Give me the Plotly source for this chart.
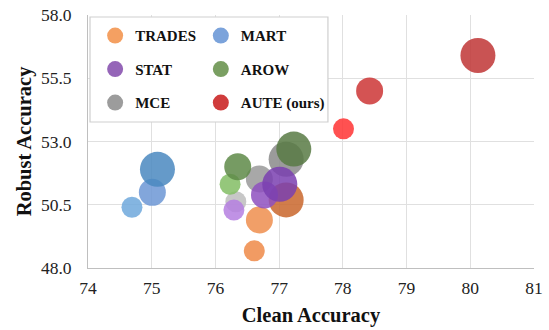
import plotly.graph_objects as go

methods = ["TRADES", "MART", "STAT", "AROW", "MCE", "AUTE (ours)"]
legend_colors = ["#F4A062", "#7BA3DB", "#9565B8", "#7A9F62", "#9C9C9C", "#D03C3C"]

clean = {
    "TRADES": [76.61, 76.69, 77.11],
    "MART": [74.69, 75.01, 75.09],
    "STAT": [76.29, 76.77, 77.01],
    "AROW": [76.23, 76.35, 77.23],
    "MCE": [76.32, 76.69, 77.11],
    "AUTE (ours)": [78.01, 78.42, 80.12],
}
robust = {
    "TRADES": [48.68, 49.90, 50.69],
    "MART": [50.40, 50.99, 51.90],
    "STAT": [50.29, 50.89, 51.31],
    "AROW": [51.31, 52.00, 52.70],
    "MCE": [50.62, 51.52, 52.30],
    "AUTE (ours)": [53.50, 55.00, 56.40],
}
point_colors = {
    "TRADES": ["#EE8A48", "#EF8E4E", "#C9662C"],
    "MART": ["#6FA8DC", "#6C96D5", "#4A88C0"],
    "STAT": ["#B57FE0", "#8E50BF", "#7A3FB0"],
    "AROW": ["#82BD64", "#5E8A48", "#587A44"],
    "MCE": ["#BDBDBD", "#999999", "#8A8A8A"],
    "AUTE (ours)": ["#FF3333", "#CC3535", "#BF3535"],
}
sizes = [21, 27, 35]

serif = "Liberation Serif, Times New Roman, serif"

fig = go.Figure()
draw_order = ["MCE", "AROW", "TRADES", "STAT", "MART", "AUTE (ours)"]
for m in draw_order:
    fig.add_trace(go.Scatter(
        x=clean[m], y=robust[m], mode="markers", showlegend=False,
        marker=dict(size=sizes, color=point_colors[m], opacity=0.85, line=dict(width=0)),
        cliponaxis=False,
    ))

for i, (m, c) in enumerate(zip(methods, legend_colors)):
    fig.add_trace(go.Scatter(
        x=[None], y=[None], mode="markers", name="<b>" + m + "</b>",
        legend="legend" if i % 2 == 0 else "legend2",
        legendgroup=m,
        marker=dict(size=18, color=c),
    ))

legend_common = dict(
    bgcolor="rgba(0,0,0,0)", borderwidth=0,
    font=dict(family=serif, size=15, color="#111"),
    tracegroupgap=11, itemsizing="trace",
    yanchor="top", xanchor="left", orientation="v",
)
fig.update_layout(
    legend=dict(x=0.016, y=0.983, **legend_common),
    legend2=dict(x=0.253, y=0.983, **legend_common),
)

fig.add_shape(type="rect", xref="paper", yref="paper",
              x0=0.0045, x1=0.538, y0=0.577, y1=0.992,
              fillcolor="white", line=dict(color="#CFCFCF", width=1.2), layer="above")

fig.update_xaxes(
    range=[74, 81], dtick=1, tick0=74, showgrid=True, gridcolor="#E0E0E0", gridwidth=1,
    showline=True, linecolor="#BFBFBF", linewidth=1, zeroline=False, ticks="",
    tickfont=dict(family=serif, size=17.5, color="#222"), automargin=False,
    ticklabelstandoff=4, ticklabeloverflow="allow",
    title=dict(text="<b>Clean Accuracy</b>", font=dict(family=serif, size=20.5, color="#111"), standoff=10),
)
fig.update_yaxes(
    range=[48, 58], dtick=2.5, tick0=48, tickformat=".1f", showgrid=True, gridcolor="#E0E0E0", gridwidth=1,
    showline=True, linecolor="#BFBFBF", linewidth=1, zeroline=False, ticks="",
    tickfont=dict(family=serif, size=17.5, color="#222"), automargin=False,
    ticklabelstandoff=12, ticklabeloverflow="allow",
    title=dict(text="<b>Robust Accuracy</b>", font=dict(family=serif, size=20.5, color="#111"), standoff=3),
)

fig.update_layout(
    width=549, height=330,
    margin=dict(l=88, r=15, t=15, b=62),
    plot_bgcolor="white", paper_bgcolor="white",
)

fig.write_html("out.html", config={"displayModeBar": False},
               post_script="document.body.style.margin='0px';")
